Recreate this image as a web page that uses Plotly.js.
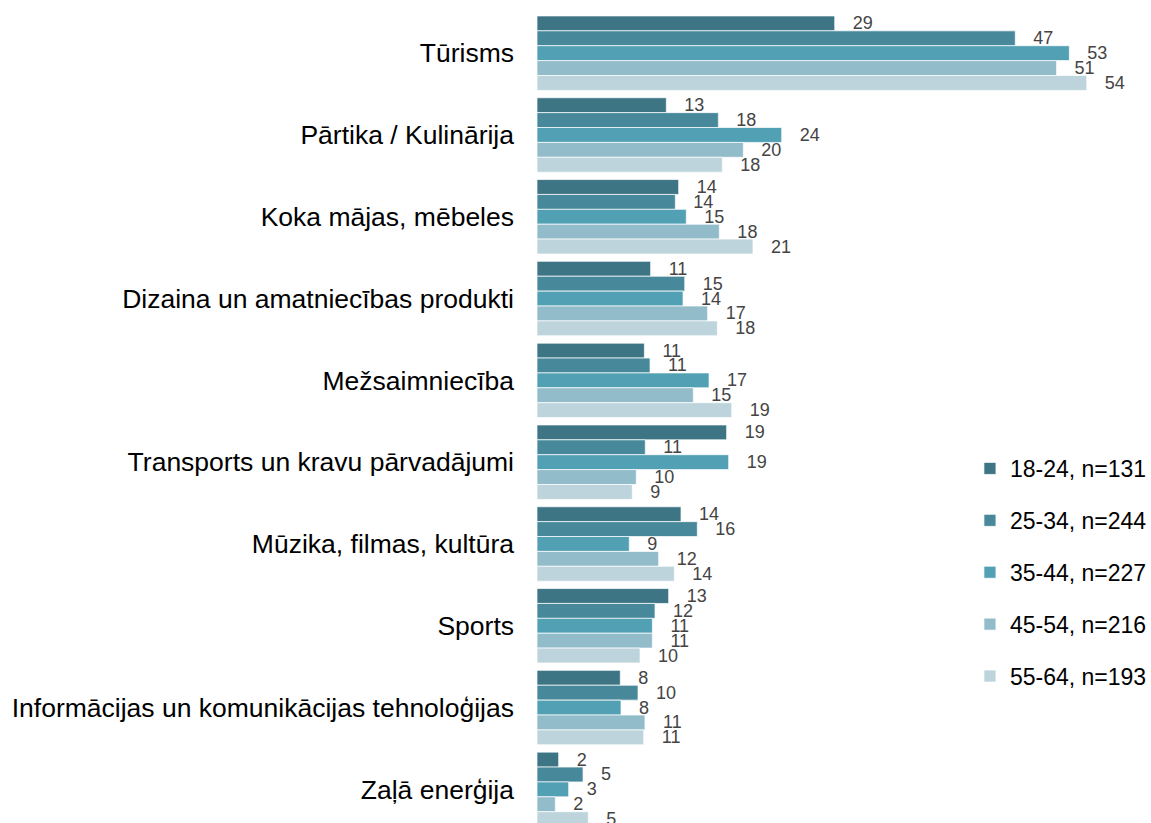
<!DOCTYPE html>
<html>
<head>
<meta charset="utf-8">
<script src="https://cdn.plot.ly/plotly-3.0.1.min.js"></script>
<style>html,body{margin:0;padding:0;background:#fff;}#chart{width:1151px;height:823px;}</style>
</head>
<body>
<div id="chart"></div>
<script>
const categories = [
  "Tūrisms",
  "Pārtika / Kulinārija",
  "Koka mājas, mēbeles",
  "Dizaina un amatniecības produkti",
  "Mežsaimniecība",
  "Transports un kravu pārvadājumi",
  "Mūzika, filmas, kultūra",
  "Sports",
  "Informācijas un komunikācijas tehnoloģijas",
  "Zaļā enerģija"
];
const seriesNames = ["18-24, n=131", "25-34, n=244", "35-44, n=227", "45-54, n=216", "55-64, n=193"];
const age18_24 = [29.42, 12.78, 14.0, 11.23, 10.61, 18.74, 14.23, 13.01, 8.23, 2.14];
const age25_34 = [47.26, 17.92, 13.67, 14.6, 11.17, 10.7, 15.84, 11.66, 9.98, 4.55];
const age35_44 = [52.6, 24.18, 14.75, 14.43, 17.0, 18.94, 9.12, 11.4, 8.3, 3.13];
const age45_54 = [51.34, 20.39, 18.02, 16.86, 15.45, 9.81, 12.02, 11.4, 10.67, 1.81];
const age55_64 = [54.32, 18.31, 21.34, 17.82, 19.24, 9.42, 13.57, 10.18, 10.55, 5.07];
const seriesValues = [age18_24, age25_34, age35_44, age45_54, age55_64];
const colors = ["#3d7585", "#47899a", "#52a0b3", "#93bccb", "#bdd4dc"];

const traces = seriesValues.map((vals, i) => ({
  type: "bar",
  orientation: "h",
  name: seriesNames[i],
  legendgroup: "g" + i,
  y: categories.map((c, k) => k),
  x: vals,
  marker: {color: colors[i], line: {color: "rgba(255,255,255,0.7)", width: 1}},
  text: vals.map(v => "\u00a0\u00a0\u00a0" + Math.round(v)),
  texttemplate: "%{text}",
  textposition: "outside",
  constraintext: "none",
  cliponaxis: false,
  textfont: {family: "Liberation Sans, Arial, sans-serif", size: 18, color: "#444444"},
  hoverinfo: "skip"
}));

const layout = {
  width: 1151,
  height: 823,
  margin: {l: 537, r: 0, t: 0, b: 0, autoexpand: false},
  paper_bgcolor: "#ffffff",
  plot_bgcolor: "#ffffff",
  barmode: "group",
  bargap: 0.09,
  bargroupgap: 0,
  showlegend: true,
  font: {family: "Liberation Sans, Arial, sans-serif", color: "#000000"},
  xaxis: {
    range: [0, 60.67],
    showgrid: false, zeroline: false, showline: false,
    showticklabels: false, ticks: ""
  },
  yaxis: {
    type: "linear",
    range: [9.411, -0.650],
    tickmode: "array",
    tickvals: categories.map((c, k) => k),
    ticktext: categories,
    showgrid: false, zeroline: false, showline: false,
    ticks: "",
    ticklabelstandoff: 22,
    tickfont: {family: "Liberation Sans, Arial, sans-serif", size: 26.5, color: "#000000"}
  },
  legend: {
    xref: "container", yref: "container",
    x: 0.8427, xanchor: "left",
    y: 0.3044, yanchor: "middle",
    traceorder: "grouped",
    tracegroupgap: 19,
    font: {family: "Liberation Sans, Arial, sans-serif", size: 23, color: "#000000"},
    bgcolor: "rgba(0,0,0,0)"
  }
};

Plotly.newPlot("chart", traces, layout, {displayModeBar: false, staticPlot: true});
</script>
</body>
</html>
